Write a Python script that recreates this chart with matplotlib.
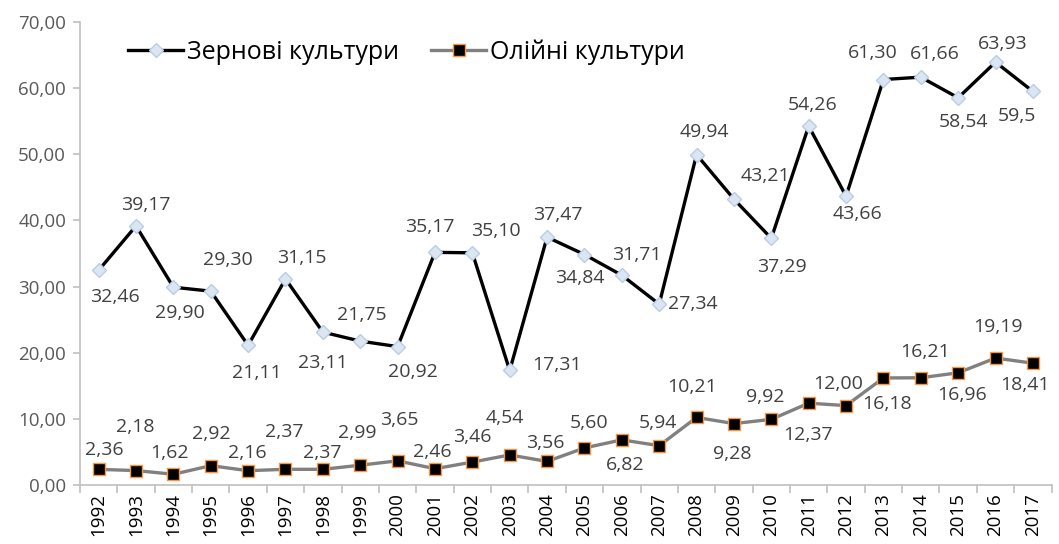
import matplotlib
matplotlib.use("Agg")
import matplotlib.pyplot as plt

plt.rcParams['font.family'] = ['Open Sans', 'DejaVu Sans']

years = [str(y) for y in range(1992, 2018)]
grain = [32.46, 39.17, 29.90, 29.30, 21.11, 31.15, 23.11, 21.75, 20.92, 35.17,
         35.10, 17.31, 37.47, 34.84, 31.71, 27.34, 49.94, 43.21, 37.29, 54.26,
         43.66, 61.30, 61.66, 58.54, 63.93, 59.5]
grain_labels = ["32,46", "39,17", "29,90", "29,30", "21,11", "31,15", "23,11", "21,75",
                "20,92", "35,17", "35,10", "17,31", "37,47", "34,84", "31,71", "27,34",
                "49,94", "43,21", "37,29", "54,26", "43,66", "61,30", "61,66", "58,54",
                "63,93", "59,5"]
oil = [2.36, 2.18, 1.62, 2.92, 2.16, 2.37, 2.37, 2.99, 3.65, 2.46, 3.46, 4.54, 3.56,
       5.60, 6.82, 5.94, 10.21, 9.28, 9.92, 12.37, 12.00, 16.18, 16.21, 16.96, 19.19, 18.41]
oil_labels = ["2,36", "2,18", "1,62", "2,92", "2,16", "2,37", "2,37", "2,99", "3,65",
              "2,46", "3,46", "4,54", "3,56", "5,60", "6,82", "5,94", "10,21", "9,28",
              "9,92", "12,37", "12,00", "16,18", "16,21", "16,96", "19,19", "18,41"]

# label offsets in pixels (dx, dy with y up)
grain_off = [(16, -27), (10, 21), (6, -26), (17, 31), (9, -28), (16, 21), (0, -31),
             (2, 26), (15, -25), (-5, 25), (24, 22), (47, 5), (11, 22), (-5, -23),
             (15, 20), (34, 0), (8, 23), (31, 23), (11, -29), (4, 21), (11, -18),
             (-11, 27), (14, 23), (5, -24), (7, 18), (-16, -25)]
oil_off = [(6, 19), (-1, 44), (-4, 21), (1, 32), (-1, 18), (-1, 37), (-1, 16), (-3, 32),
           (2, 41), (-3, 17), (0, 25), (-5, 37), (-2, 18), (5, 25), (3, -25), (-1, 23),
           (-5, 30), (-2, -30), (-6, 22), (-1, -32), (-8, 22), (4, -26), (4, 26),
           (4, -22), (2, 31), (-8, -22)]

fig = plt.figure(figsize=(10.59, 5.44), dpi=100)
ax = fig.add_axes([0.0755, 0.1085, 0.9175, 0.8511])

x = list(range(len(years)))
ax.plot(x, grain, color="black", lw=2.4, marker="D", ms=7,
        mfc="#dce6f2", mec="#b9cde5", mew=1, label="Зернові культури", zorder=3)
ax.plot(x, oil, color="#808080", lw=2.4, marker="s", ms=8,
        mfc="black", mec="#f79646", mew=1, label="Олійні культури", zorder=3)

for i in x:
    ax.annotate(grain_labels[i], (i, grain[i]), xytext=grain_off[i],
                textcoords="offset pixels", ha="center", va="center",
                fontsize=14, color="#404040")
    ax.annotate(oil_labels[i], (i, oil[i]), xytext=oil_off[i],
                textcoords="offset pixels", ha="center", va="center",
                fontsize=14, color="#404040")

ax.set_xlim(-0.5, len(years) - 0.5)
ax.set_ylim(0, 70)
ax.set_yticks(range(0, 71, 10))
ax.set_yticklabels([f"{v},00" for v in range(0, 71, 10)], fontsize=13.5, color="#595959")
ax.set_xticks(x)
ax.set_xticklabels(years, rotation=90, fontsize=13.5, color="black")
ax.set_xticks([i - 0.5 for i in range(len(years) + 1)], minor=True)
ax.tick_params(axis="x", which="major", length=0, pad=6)
ax.tick_params(axis="x", which="minor", length=6, color="#bfbfbf", width=1.2)
ax.tick_params(axis="y", length=5, color="#bfbfbf", width=1.2, pad=5)

for s in ["top", "right"]:
    ax.spines[s].set_visible(False)
for s in ["left", "bottom"]:
    ax.spines[s].set_color("#bfbfbf")
    ax.spines[s].set_linewidth(1.2)

fig.legend(loc="center left", bbox_to_anchor=(128 / 1059, 1 - 52 / 544), ncol=2,
           frameon=False, fontsize=18, handlelength=2.2, handletextpad=0.15,
           columnspacing=1.3, borderpad=0, borderaxespad=0)

fig.savefig("out.png", dpi=100)
